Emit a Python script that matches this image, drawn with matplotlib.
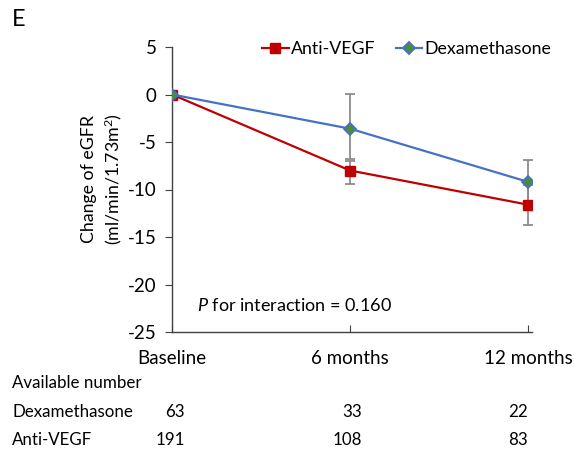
import matplotlib.pyplot as plt

plt.rcParams['font.family'] = ['Lato', 'DejaVu Sans']
plt.rcParams['axes.unicode_minus'] = False
plt.rcParams['mathtext.fontset'] = 'custom'
plt.rcParams['mathtext.rm'] = 'Lato'
plt.rcParams['mathtext.it'] = 'Lato:italic'

# data
timepoints = ["Baseline", "6 months", "12 months"]
anti_vegf = [0, -8.0, -11.6]
anti_err_lo = [0, 1.4, 2.1]
anti_err_hi = [0, 1.0, 2.1]
dexa = [0, -3.6, -9.2]
dexa_err_lo = [0, 3.2, 2.3]
dexa_err_hi = [0, 3.7, 2.3]
n_dexa = [63, 33, 22]
n_anti = [191, 108, 83]

x = list(range(len(timepoints)))
W, H = 574, 454

fig = plt.figure(figsize=(5.74, 4.54), dpi=100)
ax = fig.add_axes([172 / W, 1 - 332 / H, (531.7 - 172) / W, (332 - 47) / H])

# error bars first (grey, behind the lines)
ax.errorbar(x, anti_vegf, yerr=[anti_err_lo, anti_err_hi], fmt='none',
            ecolor='#8c8c8c', elinewidth=1.3, capsize=3.5, capthick=1.3, zorder=1)
ax.errorbar(x, dexa, yerr=[dexa_err_lo, dexa_err_hi], fmt='none',
            ecolor='#8c8c8c', elinewidth=1.3, capsize=3.5, capthick=1.3, zorder=1)

ax.plot(x, anti_vegf, color='#C00000', lw=1.6, marker='s', ms=7,
        mfc='#C00000', mec='#C00000', label='Anti-VEGF', zorder=3)
ax.plot(x, dexa, color='#4472C4', lw=1.6, marker='D', ms=6.5,
        mfc='#4E8B3A', mec='#4472C4', mew=1.3, label='Dexamethasone', zorder=4)

ax.set_xlim(0, 2.02)
ax.set_ylim(-25, 5)
ax.set_yticks(range(-25, 6, 5))
ax.set_xticks(x)
ax.set_xticklabels(timepoints)
ax.tick_params(axis='x', direction='in', length=5, labelsize=13.5, pad=13, color='#404040')
ax.tick_params(axis='y', direction='out', length=5, labelsize=13.5, pad=6, color='#404040')
for s in ['top', 'right']:
    ax.spines[s].set_visible(False)
for s in ['left', 'bottom']:
    ax.spines[s].set_color('#404040')
    ax.spines[s].set_linewidth(1.0)

ax.set_ylabel('Change of eGFR\n(ml/min/1.73m$^2$)', fontsize=12.8, linespacing=1.3)
ax.yaxis.set_label_coords((124 - 172) / (531.7 - 172), (332 - 179) / 285)

fig.legend(*ax.get_legend_handles_labels(), loc='center left',
           bbox_to_anchor=(262 / W, 1 - 49 / H), ncol=2, frameon=False,
           fontsize=12.8, handlelength=1.5, handletextpad=0.15, columnspacing=1.1,
           borderaxespad=0, borderpad=0)

ax.text(0.07, 0.075, r'$\it{P}$ for interaction = 0.160', transform=ax.transAxes,
        fontsize=13)

fig.text(12 / W, 1 - 20 / H, 'E', fontsize=17, va='center')

# table of available numbers below the axis
fig.text(12 / W, 1 - 383 / H, 'Available number', fontsize=12.2, va='center')
fig.text(12 / W, 1 - 412 / H, 'Dexamethasone', fontsize=12.2, va='center')
fig.text(12 / W, 1 - 440 / H, 'Anti-VEGF', fontsize=12.2, va='center')
col_shift = [13, 12, 0]  # right edge of each number column, px right of its tick
for i in x:
    xp = ax.transData.transform((i, 0))[0] + col_shift[i]
    fig.text(xp / W, 1 - 412 / H, str(n_dexa[i]), fontsize=12.2, ha='right', va='center')
    fig.text(xp / W, 1 - 440 / H, str(n_anti[i]), fontsize=12.2, ha='right', va='center')

fig.savefig('out.png', dpi=100)
